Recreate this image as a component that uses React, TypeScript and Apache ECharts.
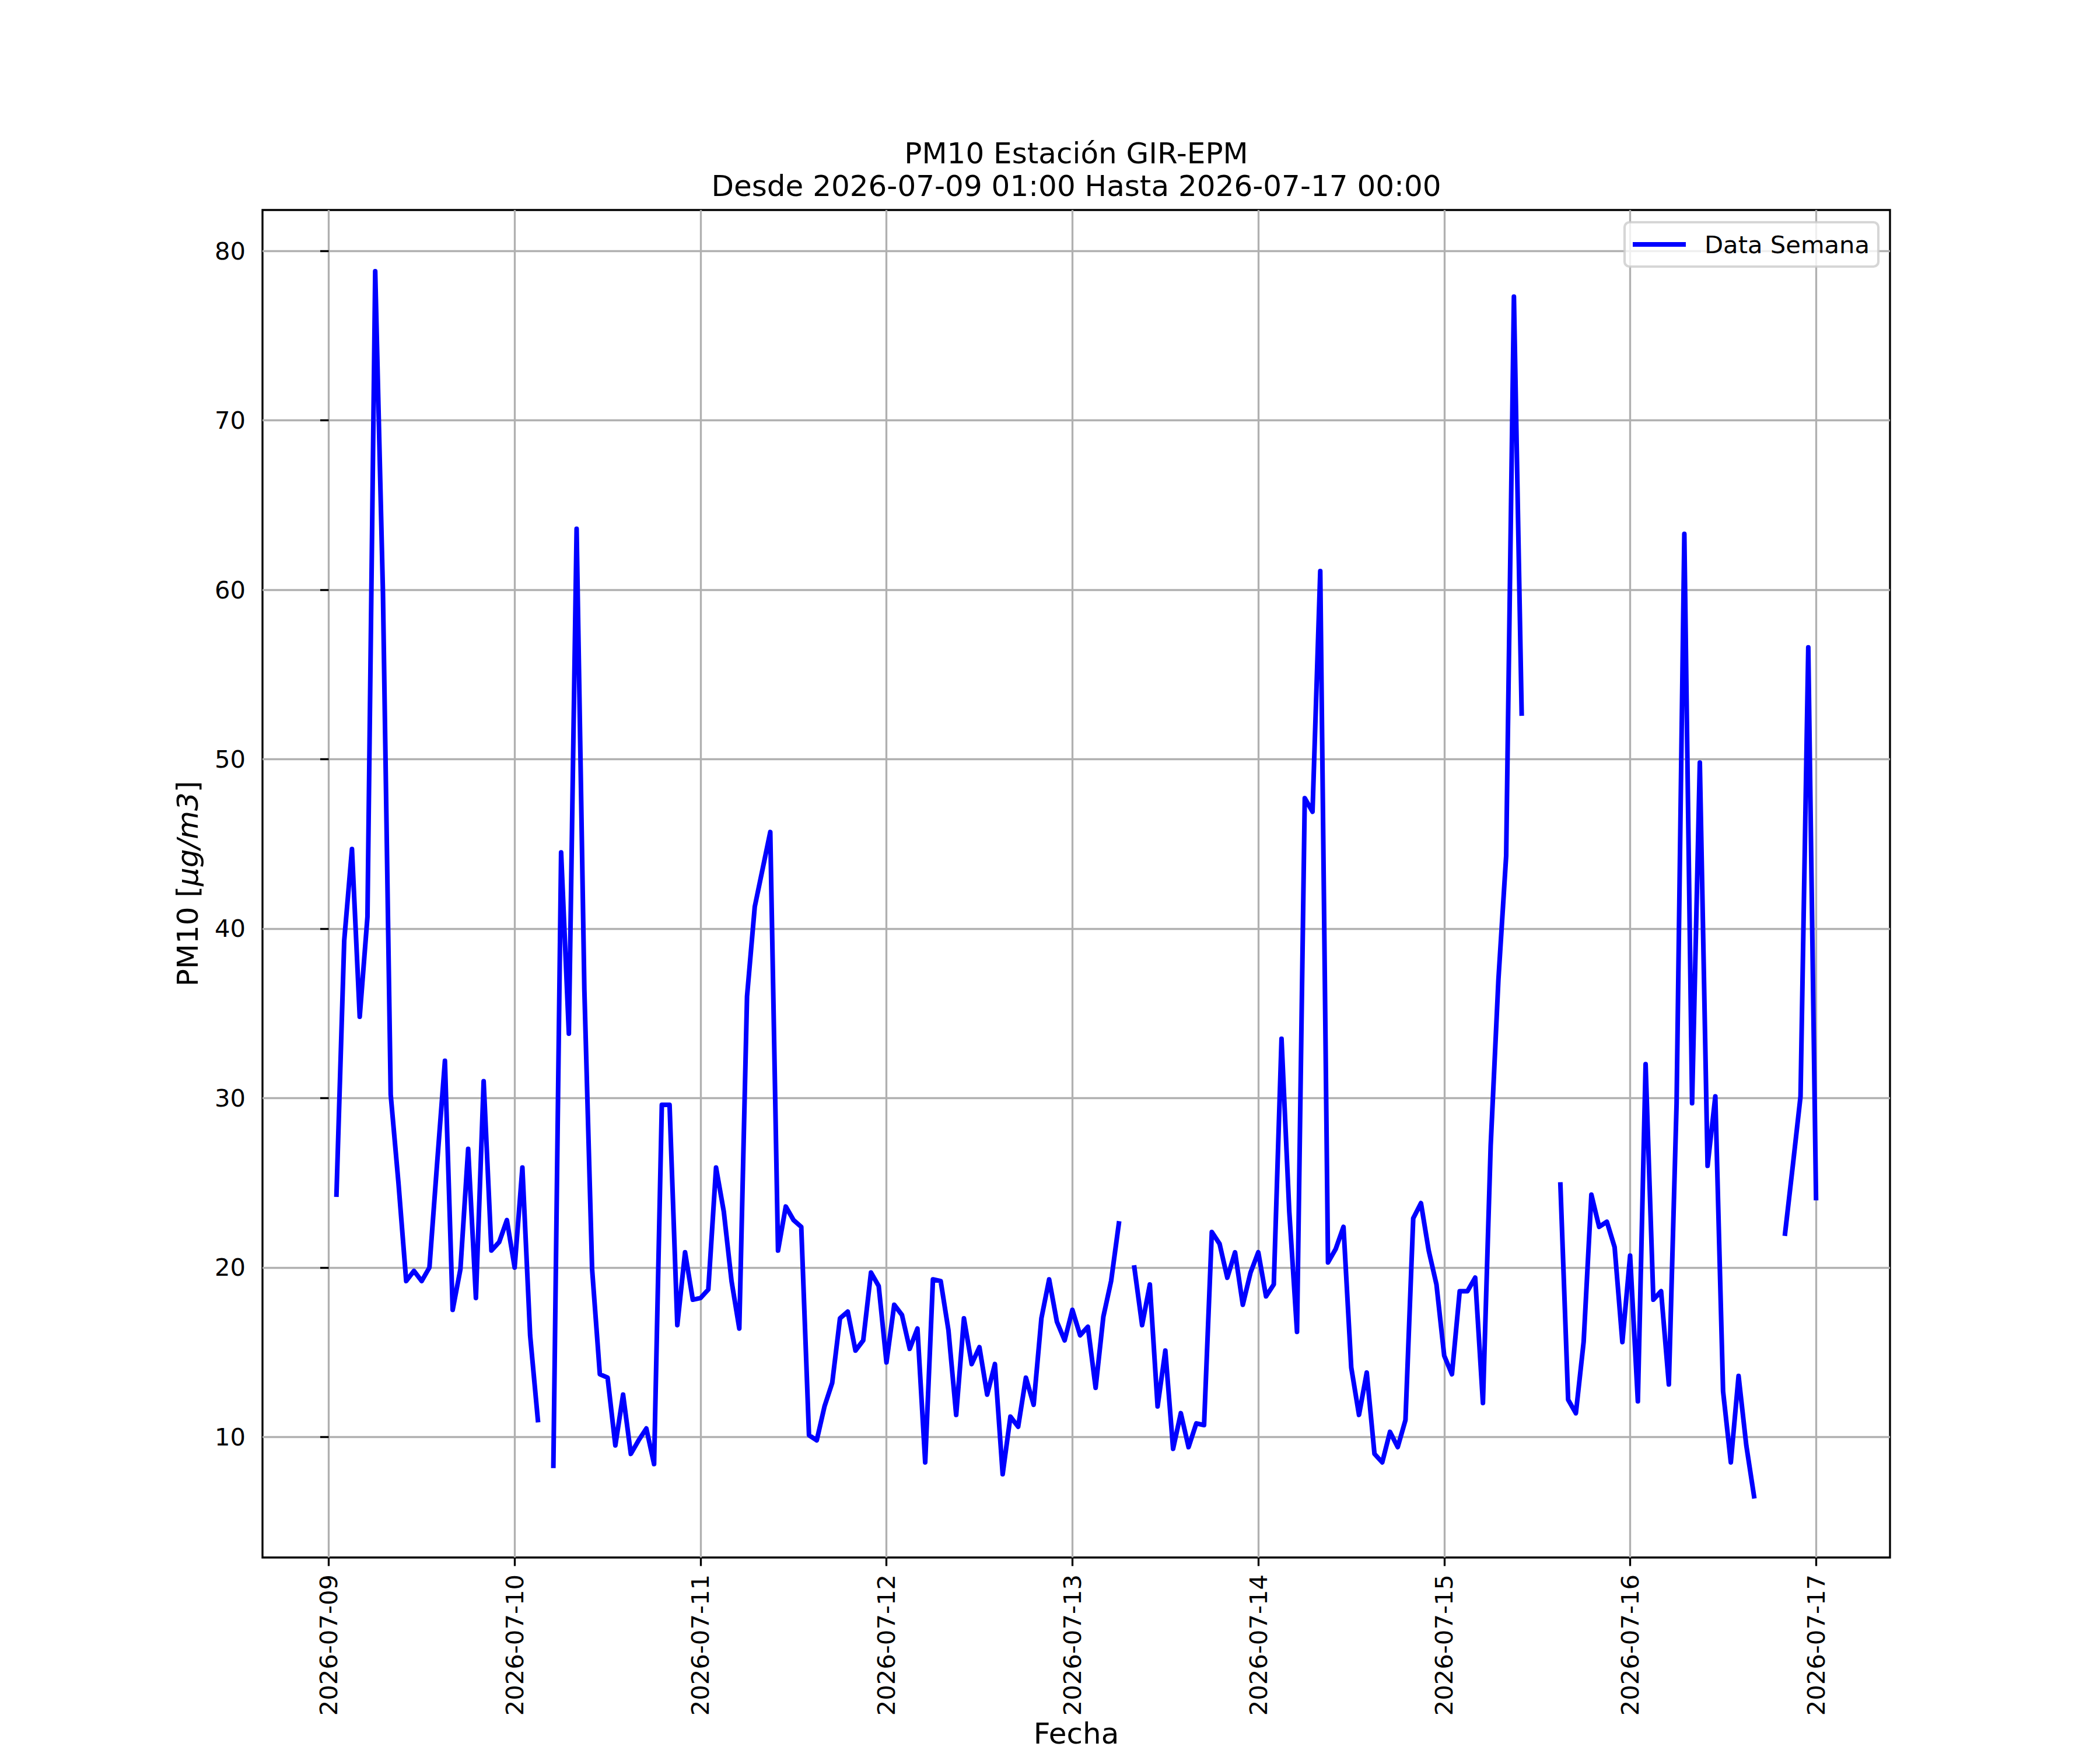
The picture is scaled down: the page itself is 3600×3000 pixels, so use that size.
import React, { useEffect, useRef } from "react";
import * as echarts from "echarts";

// Tick labels (one per day, at 00:00)
const dateLabels = [
  "2026-07-09", "2026-07-10", "2026-07-11", "2026-07-12", "2026-07-13",
  "2026-07-14", "2026-07-15", "2026-07-16", "2026-07-17",
];
const yTicks = [10, 20, 30, 40, 50, 60, 70, 80];

// Hourly PM10 values, each array = 01:00 .. 24:00 of the given day (null = missing)
const day0709 = [24.3, 39.3, 44.7, 34.8, 40.7, 78.8, 59.8, 30.2, 25.0, 19.2, 19.8, 19.2, 20.0, 26.2, 32.2, 17.5, 19.9, 27.0, 18.2, 31.0, 21.0, 21.5, 22.8, 20.0];
const day0710 = [25.9, 16.0, 11.0, null, 8.3, 44.5, 33.8, 63.6, 36.4, 19.9, 13.7, 13.5, 9.5, 12.5, 9.0, 9.8, 10.5, 8.4, 29.6, 29.6, 16.6, 20.9, 18.1, 18.2];
const day0711 = [18.7, 25.9, 23.3, 19.2, 16.4, 36.0, 41.3, 43.5, 45.7, 21.0, 23.6, 22.8, 22.4, 10.1, 9.8, 11.8, 13.2, 17.0, 17.4, 15.1, 15.7, 19.7, 18.9, 14.4];
const day0712 = [17.8, 17.2, 15.2, 16.4, 8.5, 19.3, 19.2, 16.3, 11.3, 17.0, 14.3, 15.3, 12.5, 14.3, 7.8, 11.2, 10.6, 13.5, 11.9, 17.0, 19.3, 16.8, 15.7, 17.5];
const day0713 = [16.0, 16.5, 12.9, 17.1, 19.2, 22.6, null, 20.0, 16.6, 19.0, 11.8, 15.1, 9.3, 11.4, 9.4, 10.8, 10.7, 22.1, 21.4, 19.4, 20.9, 17.8, 19.7, 20.9];
const day0714 = [18.3, 19.0, 33.5, 23.3, 16.2, 47.7, 46.9, 61.1, 20.3, 21.1, 22.4, 14.1, 11.3, 13.8, 9.0, 8.5, 10.3, 9.4, 11.0, 22.9, 23.8, 21.0, 19.0, 14.8];
const day0715 = [13.7, 18.6, 18.6, 19.4, 12.0, 27.2, 37.0, 44.3, 77.3, 52.7, null, null, null, null, 24.9, 12.2, 11.4, 15.6, 24.3, 22.4, 22.7, 21.2, 15.6, 20.7];
const day0716 = [12.1, 32.0, 18.1, 18.6, 13.1, 29.7, 63.3, 29.7, 49.8, 26.0, 30.1, 12.7, 8.5, 13.6, 9.5, 6.5, null, null, null, 22.0, 26.0, 30.1, 56.6, 24.1];

const allValues = [
  ...day0709, ...day0710, ...day0711, ...day0712,
  ...day0713, ...day0714, ...day0715, ...day0716,
];

export default function App() {
  const ref = useRef<HTMLDivElement>(null);

  useEffect(() => {
    document.body.style.margin = "0";
    if (!ref.current) return;
    const chart = echarts.init(ref.current, undefined, { renderer: "svg" });

    const seriesData = allValues.map((v, i) => [i + 1, v === null ? "-" : v]);
    const valid = allValues.filter((v) => v !== null) as number[];
    const vMin = Math.min(...valid);
    const vMax = Math.max(...valid);
    const yPad = (vMax - vMin) * 0.05;
    const xFirst = 1;
    const xLast = allValues.length;
    const xPad = (xLast - xFirst) * 0.05;
    const xTicks = dateLabels.map((_, i) => i * 24);

    const font = "DejaVu Sans";
    const tickFs = 41.7;
    const gridCol = "#b0b0b0";
    const lw = 3.33;

    chart.setOption({
      animation: false,
      backgroundColor: "#ffffff",
      grid: {
        left: 450,
        right: 360,
        top: 360,
        bottom: 330,
        show: true,
        borderColor: "#000000",
        borderWidth: lw,
        backgroundColor: "transparent",
        containLabel: false,
      },
      xAxis: {
        type: "value",
        min: xFirst - xPad,
        max: xLast + xPad,
        axisLine: { show: false },
        axisTick: {
          show: true,
          customValues: xTicks,
          length: 14.6,
          lineStyle: { color: "#000", width: lw },
        },
        axisLabel: {
          customValues: xTicks,
          rotate: 90,
          margin: 29,
          color: "#000",
          fontSize: tickFs,
          fontFamily: font,
          formatter: (v: number) => dateLabels[Math.round(v / 24)] ?? "",
        },
        splitLine: { show: true, lineStyle: { color: gridCol, width: lw } },
      },
      yAxis: {
        type: "value",
        min: vMin - yPad,
        max: vMax + yPad,
        axisLine: { show: false },
        axisTick: {
          show: true,
          customValues: yTicks,
          length: 14.6,
          lineStyle: { color: "#000", width: lw },
        },
        axisLabel: {
          customValues: yTicks,
          margin: 29,
          color: "#000",
          fontSize: tickFs,
          fontFamily: font,
        },
        splitLine: { show: true, lineStyle: { color: gridCol, width: lw } },
      },
      legend: {
        show: true,
        left: 2785,
        top: 381,
        orient: "vertical",
        icon: "rect",
        itemWidth: 91,
        itemHeight: 8,
        padding: [17, 15, 17, 14],
        backgroundColor: "rgba(255,255,255,0.8)",
        borderColor: "rgba(204,204,204,0.8)",
        borderWidth: 4.17,
        borderRadius: 8.3,
        textStyle: {
          fontSize: tickFs,
          fontFamily: font,
          color: "#000",
          lineHeight: 42,
          padding: [0, 0, 0, 27],
        },
        data: ["Data Semana"],
      },
      graphic: [
        {
          type: "text",
          x: 1845,
          y: 262.5,
          style: {
            text: "PM10 Estación GIR-EPM",
            fill: "#000",
            font: `50px "${font}"`,
            align: "center",
            verticalAlign: "middle",
            textAlign: "center",
            textVerticalAlign: "middle",
          },
        },
        {
          type: "text",
          x: 1845,
          y: 318.5,
          style: {
            text: "Desde 2026-07-09 01:00 Hasta 2026-07-17 00:00",
            fill: "#000",
            font: `50px "${font}"`,
            align: "center",
            verticalAlign: "middle",
            textAlign: "center",
            textVerticalAlign: "middle",
          },
        },
        {
          type: "text",
          x: 1845,
          y: 2997,
          style: {
            text: "Fecha",
            fill: "#000",
            font: `50px "${font}"`,
            align: "center",
            verticalAlign: "bottom",
            textAlign: "center",
            textVerticalAlign: "bottom",
          },
        },
        {
          type: "text",
          x: 322,
          y: 1515,
          rotation: Math.PI / 2,
          style: {
            text: "{a|PM10 [}{b|μg/m3}{a|]}",
            fill: "#000",
            font: `50px "${font}"`,
            align: "center",
            verticalAlign: "middle",
            textAlign: "center",
            textVerticalAlign: "middle",
            rich: {
              a: { fontSize: 50, fontFamily: font, fill: "#000" },
              b: { fontSize: 50, fontFamily: font, fontStyle: "italic", fill: "#000" },
            },
          },
        },
      ],
      series: [
        {
          name: "Data Semana",
          type: "line",
          data: seriesData,
          showSymbol: false,
          symbol: "none",
          connectNulls: false,
          color: "#0000ff",
          itemStyle: { color: "#0000ff" },
          lineStyle: { color: "#0000ff", width: 8, join: "round", cap: "square" },
          clip: true,
        },
      ],
    });

    return () => chart.dispose();
  }, []);

  return <div ref={ref} style={{ width: 3600, height: 3000 }} />;
}
